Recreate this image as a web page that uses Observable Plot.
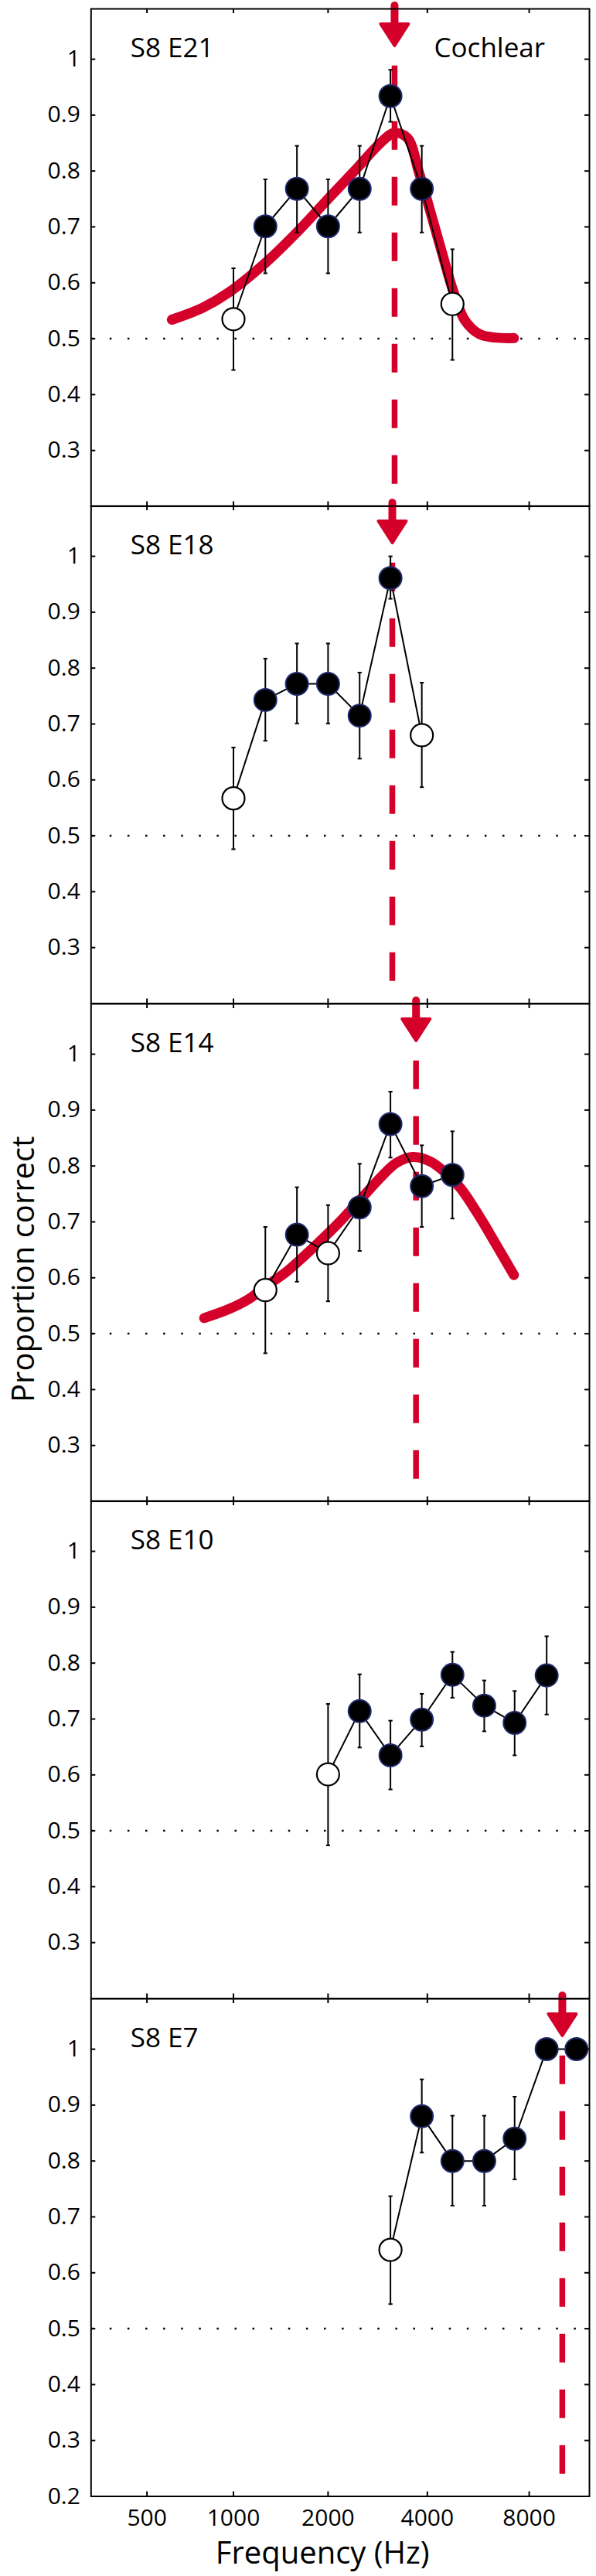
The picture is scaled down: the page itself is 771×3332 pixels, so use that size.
<!DOCTYPE html>
<html>
<head>
<meta charset="utf-8">
<script src="https://cdn.jsdelivr.net/npm/d3@7"></script>
<script src="https://cdn.jsdelivr.net/npm/@observablehq/plot@0.6"></script>
<style>
html, body { margin: 0; padding: 0; background: #fff; }
#chart { position: relative; width: 771px; height: 3332px; overflow: hidden; }
#chart > div { position: absolute; left: 0; }
</style>
</head>
<body>
<div id="chart"></div>
<script>
// ---------------- data ----------------
const panelLabels = ["S8 E21", "S8 E18", "S8 E14", "S8 E10", "S8 E7"];
const panelNotes = ["Cochlear", "", "", "", ""];

// S8 E21
const e21Freq = [1000, 1270, 1600, 2000, 2500, 3100, 3850, 4750];
const e21Prop = [0.535, 0.701, 0.768, 0.701, 0.768, 0.934, 0.768, 0.562];
const e21Lo   = [0.444, 0.617, 0.690, 0.617, 0.690, 0.888, 0.690, 0.462];
const e21Hi   = [0.626, 0.785, 0.845, 0.785, 0.845, 0.981, 0.845, 0.660];
const e21Open = [true, false, false, false, false, false, false, true];

// S8 E18
const e18Freq = [1000, 1270, 1600, 2000, 2500, 3100, 3850];
const e18Prop = [0.567, 0.743, 0.772, 0.772, 0.715, 0.961, 0.680];
const e18Lo   = [0.476, 0.670, 0.701, 0.701, 0.638, 0.924, 0.587];
const e18Hi   = [0.658, 0.817, 0.844, 0.844, 0.792, 1.000, 0.774];
const e18Open = [true, false, false, false, false, false, true];

// S8 E14
const e14Freq = [1270, 1600, 2000, 2500, 3100, 3850, 4750];
const e14Prop = [0.578, 0.677, 0.644, 0.726, 0.875, 0.764, 0.784];
const e14Lo   = [0.465, 0.593, 0.558, 0.648, 0.815, 0.691, 0.706];
const e14Hi   = [0.691, 0.762, 0.730, 0.804, 0.933, 0.837, 0.862];
const e14Open = [true, false, true, false, false, false, false];

// S8 E10
const e10Freq = [2000, 2500, 3100, 3850, 4750, 5900, 7250, 9000];
const e10Prop = [0.601, 0.714, 0.635, 0.699, 0.779, 0.724, 0.693, 0.778];
const e10Lo   = [0.474, 0.649, 0.574, 0.651, 0.738, 0.678, 0.635, 0.708];
const e10Hi   = [0.727, 0.780, 0.697, 0.745, 0.820, 0.769, 0.750, 0.848];
const e10Open = [true, false, false, false, false, false, false, false];

// S8 E7
const e7Freq = [3100, 3850, 4750, 5900, 7250, 9000, 11000];
const e7Prop = [0.641, 0.880, 0.800, 0.800, 0.840, 1.000, 1.000];
const e7Lo   = [0.544, 0.815, 0.720, 0.720, 0.767, null, null];
const e7Hi   = [0.737, 0.946, 0.881, 0.881, 0.915, null, null];
const e7Open = [true, false, false, false, false, false, false];

// fitted tuning curves (red)
const fit21Freq = [616, 786, 966, 1284, 1604, 1993, 2472, 2900, 3181, 3487, 3773, 4080, 4412, 4770, 5157, 5720, 6345, 7215];
const fit21Prop = [0.534, 0.555, 0.583, 0.638, 0.691, 0.749, 0.807, 0.851, 0.868, 0.859, 0.798, 0.728, 0.656, 0.586, 0.534, 0.508, 0.502, 0.501];
const fit14Freq = [798, 966, 1115, 1284, 1476, 1694, 1941, 2221, 2539, 2900, 3222, 3616, 4080, 4528, 5025, 5720, 6345, 7215];
const fit14Prop = [0.528, 0.544, 0.561, 0.586, 0.610, 0.640, 0.672, 0.706, 0.743, 0.780, 0.805, 0.816, 0.808, 0.788, 0.760, 0.709, 0.663, 0.605];

// best-frequency arrows (Hz); null = none
const arrowFreq = [3190, 3140, 3700, null, 10000];

// axes
const xTickValues = [500, 1000, 2000, 4000, 8000];
const xTickLabels = ["500", "1000", "2000", "4000", "8000"];
const xDomainHz = [300, 12000];
const yTickValues = [0.3, 0.4, 0.5, 0.6, 0.7, 0.8, 0.9, 1];
const yTickLabels = ["0.3", "0.4", "0.5", "0.6", "0.7", "0.8", "0.9", "1"];
const yDomain = [0.2, 1.09];
const chanceLevel = 0.5;

// ---------------- layout / style ----------------
const RED = "#d4002a";
const NAVY = "#1f2a6b";
const FONT = "'Open Sans', 'Noto Sans', sans-serif";
const W = 771, ML = 117.3, MR = 9, MT = 16, PANEL_H = 643.5, FIRST_TOP = 10.7;
const MB_LAST = 3332 - (FIRST_TOP + 5 * PANEL_H);
const ARROW_TOP = 1.0955, ARROW_BASE = 1.063, DASH_TOP = 0.988;

// Greenwood cochlear-position frequency map used for the x axis
const g = f => Math.log10(f / 165.4 + 0.88) / 2.1;
const xTickG = xTickValues.map(g);

const arrowHead = { draw(ctx, size) {
  const s = Math.sqrt(size / Math.PI) / 10;
  ctx.moveTo(-18 * s, 0); ctx.lineTo(18 * s, 0); ctx.lineTo(0, 28 * s); ctx.closePath();
}};
const capSymbol = { draw(ctx, size) {
  const w = Math.sqrt(size / Math.PI);
  ctx.moveTo(-w, 0); ctx.lineTo(w, 0);
}};

const panels = [
  {freq: e21Freq, prop: e21Prop, lo: e21Lo, hi: e21Hi, open: e21Open, fitF: fit21Freq, fitP: fit21Prop},
  {freq: e18Freq, prop: e18Prop, lo: e18Lo, hi: e18Hi, open: e18Open},
  {freq: e14Freq, prop: e14Prop, lo: e14Lo, hi: e14Hi, open: e14Open, fitF: fit14Freq, fitP: fit14Prop},
  {freq: e10Freq, prop: e10Prop, lo: e10Lo, hi: e10Hi, open: e10Open},
  {freq: e7Freq, prop: e7Prop, lo: e7Lo, hi: e7Hi, open: e7Open}
];

const chart = document.getElementById("chart");
const innerW = W - ML - MR;

panels.forEach((p, k) => {
  const last = k === panels.length - 1;
  const MB = last ? MB_LAST : 0;
  const rows = p.freq.map((f, i) => ({f, p: p.prop[i], lo: p.lo[i], hi: p.hi[i], open: p.open[i]}));
  const err = rows.filter(d => d.lo != null && d.hi != null);
  const X = d => g(d.f);
  const marks = [];

  // chance level
  marks.push(Plot.ruleY([chanceLevel], {stroke: "black", strokeWidth: 2.5, strokeDasharray: "2.5,20.6", strokeDashoffset: -1.4}));

  // best-frequency dashed line
  if (arrowFreq[k] != null) {
    marks.push(Plot.ruleX([arrowFreq[k]], {x: g, y1: DASH_TOP, y2: yDomain[0], stroke: RED, strokeWidth: 7.5, strokeDasharray: "37,35"}));
  }

  // fitted curve
  if (p.fitF) {
    const fit = p.fitF.map((f, i) => ({f, p: p.fitP[i]}));
    marks.push(Plot.line(fit, {x: X, y: "p", stroke: RED, strokeWidth: 13, curve: "catmull-rom"}));
  }

  // error bars
  marks.push(Plot.ruleX(err, {x: X, y1: "lo", y2: "hi", stroke: "black", strokeWidth: 2}));
  marks.push(Plot.dot(err, {x: X, y: "lo", symbol: capSymbol, r: 2.6, stroke: "black", strokeWidth: 2, fill: "none"}));
  marks.push(Plot.dot(err, {x: X, y: "hi", symbol: capSymbol, r: 2.6, stroke: "black", strokeWidth: 2, fill: "none"}));

  // connecting line and markers
  marks.push(Plot.line(rows, {x: X, y: "p", stroke: "black", strokeWidth: 2}));
  marks.push(Plot.dot(rows.filter(d => !d.open), {x: X, y: "p", r: 14.5, fill: "black", stroke: NAVY, strokeWidth: 2}));
  marks.push(Plot.dot(rows.filter(d => d.open), {x: X, y: "p", r: 14.5, fill: "white", stroke: "black", strokeWidth: 2.2}));

  // arrow
  if (arrowFreq[k] != null) {
    marks.push(Plot.ruleX([arrowFreq[k]], {x: g, y1: ARROW_TOP, y2: ARROW_BASE, stroke: RED, strokeWidth: 10, strokeLinecap: "round"}));
    marks.push(Plot.dot([arrowFreq[k]], {x: g, y: ARROW_BASE, symbol: arrowHead, r: 10, fill: RED, stroke: RED, strokeWidth: 4, strokeLinejoin: "round"}));
  }

  // inward tick marks on all four sides
  marks.push(Plot.ruleY(yTickValues, {y: d => d, insetRight: innerW - 6, stroke: "black", strokeWidth: 2}));
  marks.push(Plot.ruleY(yTickValues, {y: d => d, insetLeft: innerW - 6, stroke: "black", strokeWidth: 2}));
  marks.push(Plot.ruleX(xTickG, {x: d => d, insetTop: PANEL_H - 6, stroke: "black", strokeWidth: 2}));
  marks.push(Plot.ruleX(xTickG, {x: d => d, insetBottom: PANEL_H - 6, stroke: "black", strokeWidth: 2}));

  // y tick labels
  const yVals = last ? [0.2, ...yTickValues] : yTickValues;
  const yLabs = last ? ["0.2", ...yTickLabels] : yTickLabels;
  marks.push(Plot.axisY(yVals, {anchor: "left", tickSize: 0, tickPadding: 14, label: null,
    tickFormat: d => yLabs[yVals.indexOf(d)]}));

  // x tick labels + titles
  if (last) {
    marks.push(Plot.axisX(xTickG, {anchor: "bottom", tickSize: 0, tickPadding: 17, label: null,
      tickFormat: d => xTickLabels[xTickG.indexOf(d)]}));
    marks.push(Plot.text(["Frequency (Hz)"], {text: d => d, frameAnchor: "bottom", dx: -23, dy: 87, lineAnchor: "bottom", textAnchor: "middle", fontSize: 40, fill: "black"}));
  }
  if (k === 2) {
    marks.push(Plot.text(["Proportion correct"], {text: d => d, frameAnchor: "left", rotate: -90, dx: -74, dy: 21.5, lineAnchor: "bottom", textAnchor: "middle", fontSize: 40, fill: "black"}));
  }

  // panel labels
  marks.push(Plot.text([panelLabels[k]], {text: d => d, frameAnchor: "top-left", dx: 51, dy: 62.6, lineAnchor: "bottom", textAnchor: "start", fontSize: 35, fill: "black"}));
  if (panelNotes[k]) {
    marks.push(Plot.text([panelNotes[k]], {text: d => d, frameAnchor: "top-left", dx: 515.5, dy: 62.6, lineAnchor: "bottom", textAnchor: "middle", fontSize: 35, fill: "black"}));
  }

  marks.push(Plot.frame({stroke: "black", strokeWidth: 2}));

  const xOpts = {type: "linear", domain: xDomainHz.map(g)};
  if (!last) xOpts.axis = null;

  const svg = Plot.plot({
    width: W,
    height: MT + PANEL_H + MB,
    marginTop: MT, marginBottom: MB, marginLeft: ML, marginRight: MR,
    x: xOpts,
    y: {domain: yDomain, label: null},
    style: {fontFamily: FONT, fontSize: "30px", color: "black", background: "transparent", overflow: "visible"},
    marks
  });
  const holder = document.createElement("div");
  holder.style.top = (FIRST_TOP + k * PANEL_H - MT) + "px";
  holder.appendChild(svg);
  chart.appendChild(holder);
});
</script>
</body>
</html>
